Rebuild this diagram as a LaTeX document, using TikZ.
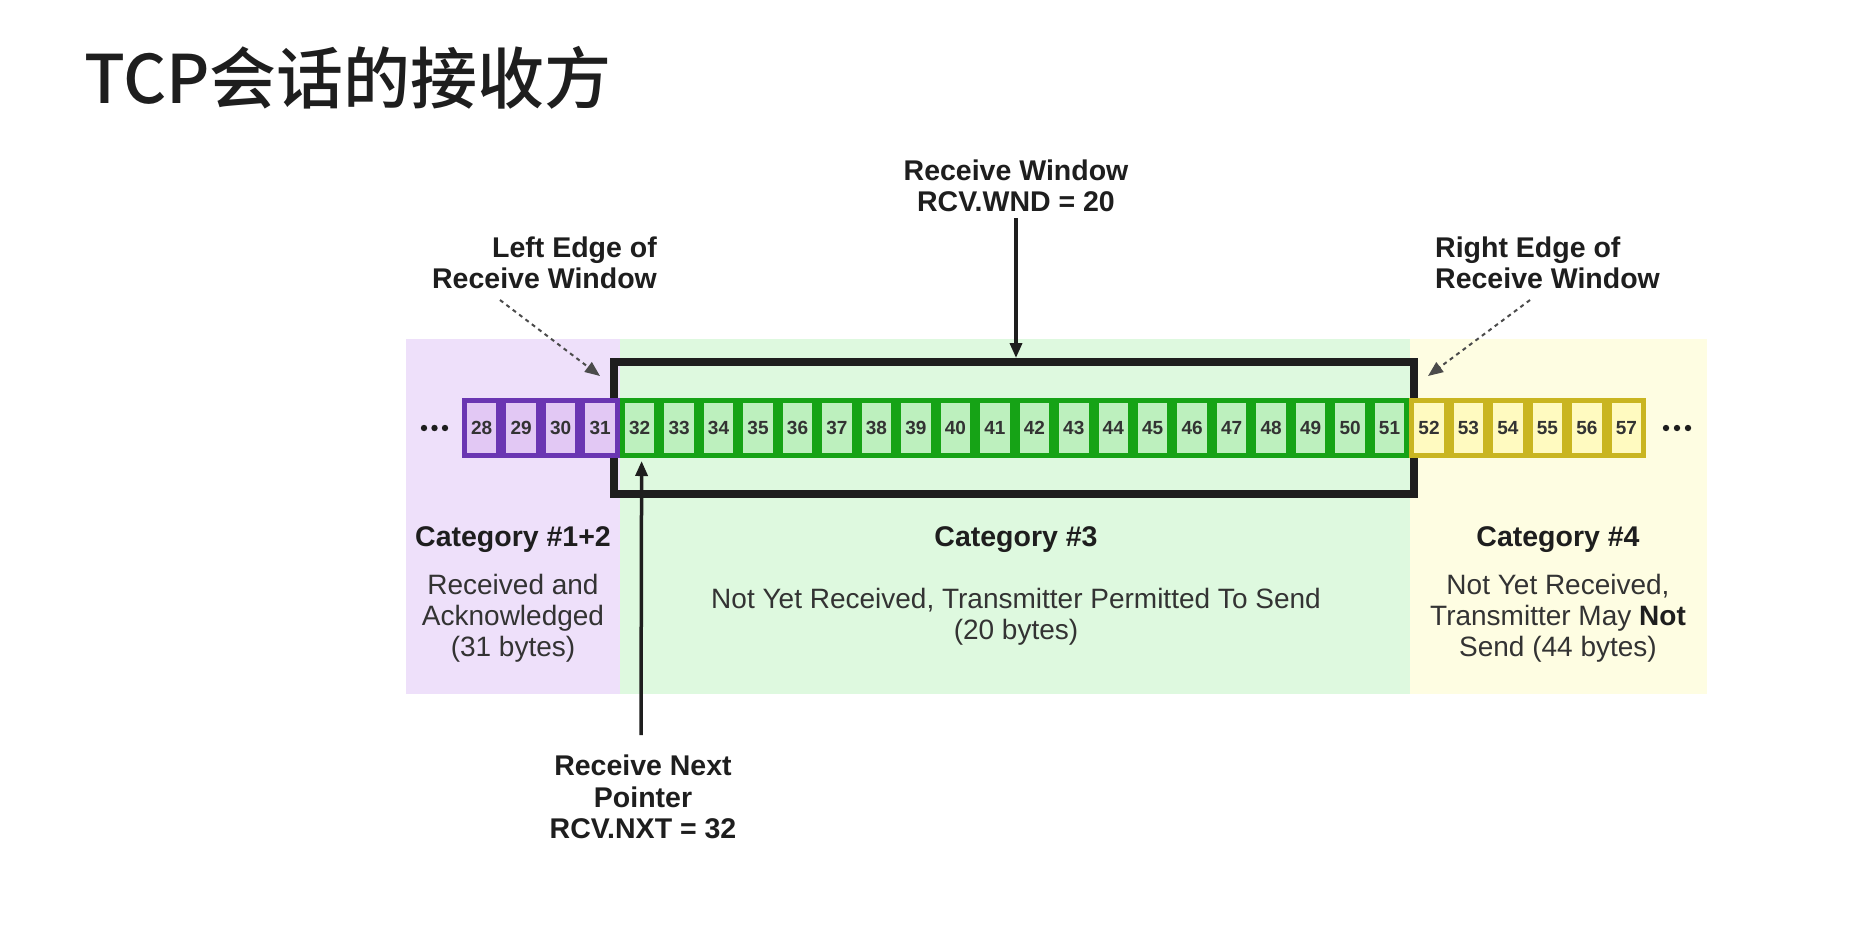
\documentclass[tikz,border=0pt]{standalone}
\usepackage{fontspec}
\setmainfont{Liberation Sans}
\newfontfamily\cjkfont[UprightFont={* Medium}]{Noto Sans CJK SC}
\usetikzlibrary{arrows.meta,calc}
\definecolor{pBd}{HTML}{6A36B2}
\definecolor{pFill}{HTML}{E2C8F4}
\definecolor{pBg}{HTML}{EEE0FA}
\definecolor{gBd}{HTML}{16A316}
\definecolor{gFill}{HTML}{BDF0BE}
\definecolor{gBg}{HTML}{DEF9DF}
\definecolor{yBd}{HTML}{C9B521}
\definecolor{yFill}{HTML}{FFFAC0}
\definecolor{yBg}{HTML}{FEFDE2}
\definecolor{ink}{HTML}{1E1E1E}
\definecolor{txt}{HTML}{333333}
\begin{document}
\begin{tikzpicture}[x=1pt,y=-1pt,
  cellbase/.style={minimum width=34.5pt, minimum height=55pt, line width=5pt, inner sep=0pt,
     font=\fontsize{19}{20}\selectfont\bfseries, text=txt},
  cellP/.style={cellbase, draw=pBd, fill=pFill},
  cellG/.style={cellbase, draw=gBd, fill=gFill},
  cellY/.style={cellbase, draw=yBd, fill=yFill},
  lblB/.style={inner sep=0pt, text=ink, font=\fontsize{28.5}{31}\selectfont\bfseries},
  lblR/.style={inner sep=0pt, text=txt, font=\fontsize{28}{31}\selectfont, align=center},
  solidarrow/.style={line width=3.5pt, draw=ink, -{Triangle[length=15pt,width=12pt]}},
  dasharrow/.style={line width=2pt, draw=ink!80, dash pattern=on 4pt off 4pt, -{Triangle[length=15pt,width=12pt]}},
  dotmark/.style={fill=ink}
]
\useasboundingbox (0,0) rectangle (1872,927);
\fill[white] (0,0) rectangle (1872,927);

% title
\node[anchor=base west, inner sep=0pt, text=ink] (title) at (84,103) {\fontsize{67}{72}\selectfont\cjkfont TCP会话的接收方};

% category backgrounds
\fill[pBg] (406,339) rectangle (620,694);
\fill[gBg] (620,339) rectangle (1410,694);
\fill[yBg] (1410,339) rectangle (1707,694);

% receive window box
\node[draw=ink, line width=8pt, minimum width=800pt, minimum height=132pt, inner sep=0pt] (win) at (1014,428) {};

% cells
\foreach \n in {28,...,31} \node[cellP] (c\n) at ({462+(\n-27.5)*39.47},428) {\n};
\foreach \n in {32,...,51} \node[cellG] (c\n) at ({462+(\n-27.5)*39.47},428) {\n};
\foreach \n in {52,...,57} \node[cellY] (c\n) at ({462+(\n-27.5)*39.47},428) {\n};

% ellipsis dots
\foreach \x in {424,434.5,445} \fill[dotmark] (\x,428) circle (3.2pt);
\foreach \x in {1666,1677,1688} \fill[dotmark] (\x,428) circle (3.2pt);

% top labels
\node[lblB, align=center, anchor=north] (rw) at (1016,160) {Receive Window\\RCV.WND = 20};
\node[lblB, align=right, anchor=north east] (le) at (657,237) {Left Edge of\\Receive Window};
\node[lblB, align=left, anchor=north west] (re) at (1435,237) {Right Edge of\\Receive Window};
\node[lblB, align=center, anchor=north, font=\fontsize{28.5}{31.5}\selectfont\bfseries] (rnp) at (643,755) {Receive Next\\Pointer\\RCV.NXT = 32};

% category texts
\node[lblB, anchor=north] (cat12) at (513,526) {Category \#1+2};
\node[lblR, anchor=north] (d12) at (513,574) {Received and\\Acknowledged\\(31 bytes)};
\node[lblB, anchor=north] (cat3) at (1016,526) {Category \#3};
\node[lblR, anchor=north] (d3) at (1016,588) {Not Yet Received, Transmitter Permitted To Send\\(20 bytes)};
\node[lblB, anchor=north] (cat4) at (1558,526) {Category \#4};
\node[lblR, anchor=north] (d4) at (1558,574) {Not Yet Received,\\Transmitter May \textbf{\color{ink}Not}\\Send (44 bytes)};

% arrows
\draw[solidarrow] ($(rw.south)+(0,6)$) -- (rw.south |- win.north);
\draw[solidarrow] ($(rnp.north)+(-2,-20)$) -- ($(c32.south)+(2,3)$);
\coordinate (leStart) at (500,300);
\coordinate (reStart) at (1530,300);
\draw[dasharrow] (leStart) -- ($(win.north west)+(-10,18)$);
\draw[dasharrow] (reStart) -- ($(win.north east)+(10,18)$);
\end{tikzpicture}
\end{document}
